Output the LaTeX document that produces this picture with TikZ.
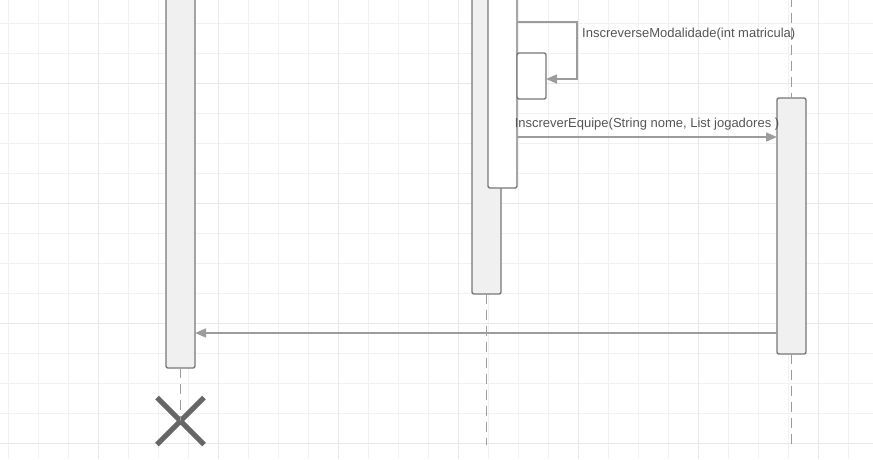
\documentclass[tikz,border=0pt]{standalone}
\usepackage{fontspec}
\setmainfont{Liberation Sans}
\usetikzlibrary{arrows.meta,shapes.misc}
\definecolor{gridminor}{HTML}{F1F1F1}
\definecolor{gridmajor}{HTML}{E8E8E8}
\definecolor{actfill}{HTML}{F0F0F0}
\definecolor{actline}{HTML}{777777}
\definecolor{msgline}{HTML}{9C9C9C}
\definecolor{msgtext}{HTML}{555555}
\definecolor{endcross}{HTML}{666666}
\tikzset{
  actbox/.style={draw=actline,fill=actfill,line width=1.4pt,rounded corners=2pt,
    minimum width=29pt,inner sep=0pt,outer sep=0pt},
  actinner/.style={actbox,fill=white},
  lifeline/.style={draw=msgline,line width=1.6pt,dash pattern=on 10pt off 6pt},
  msg/.style={draw=msgline,line width=1.5pt,-{Triangle[length=11pt,width=9pt]}},
  msglabel/.style={text=msgtext,font=\fontsize{13}{15}\selectfont,inner sep=2pt},
  endmark/.style={cross out,draw=endcross,line width=5pt,minimum size=42pt,inner sep=0pt}
}
\begin{document}
\begin{tikzpicture}[x=1pt,y=-1pt]
  \useasboundingbox (0,0) rectangle (873,459);
  \clip (0,0) rectangle (873,459);
  \foreach \x in {8,38,...,878} \draw[gridminor,line width=1pt] (\x,0) -- (\x,459);
  \foreach \y in {23,53,...,459} \draw[gridminor,line width=1pt] (0,\y) -- (873,\y);
  \foreach \x in {98,218,...,878} \draw[gridmajor,line width=1pt] (\x,0) -- (\x,459);
  \foreach \y in {83,203,323,443} \draw[gridmajor,line width=1pt] (0,\y) -- (873,\y);

  \node[actbox,minimum height=380pt] (actA) at (180.5,178) {};
  \node[actbox,minimum height=306pt] (actB) at (486.5,141) {};
  \node[actinner,minimum height=200pt] (actBi) at (502.5,88) {};
  \node[actinner,minimum height=46pt] (self) at (531.5,76) {};
  \node[actbox,minimum height=256pt] (actC) at (791.5,226) {};

  \node[endmark] (endA) at (180.5,421) {};
  \coordinate (endB) at (486.5,445);
  \coordinate (topC) at (791.5,-3);
  \coordinate (endC) at (791.5,445);

  \draw[lifeline] (actA.south) -- (endA.center);
  \draw[lifeline] (actB.south) -- (endB);
  \draw[lifeline] (topC) -- (actC.north);
  \draw[lifeline] (actC.south) -- (endC);

  \draw[msg] (actBi.east |- 0,22) -| (577,79) -- (self.east |- 0,79);
  \node[msglabel,anchor=west] (lblSelf) at (580,34) {InscreverseModalidade(int matricula)};
  \draw[msg] (actBi.east |- 0,137) -- (actC.west |- 0,137)
    node[msglabel,midway,above=4pt] (lblEquipe) {InscreverEquipe(String nome, List jogadores )};
  \draw[msg] (actC.west |- 0,333) -- (actA.east |- 0,333);
\end{tikzpicture}
\end{document}
